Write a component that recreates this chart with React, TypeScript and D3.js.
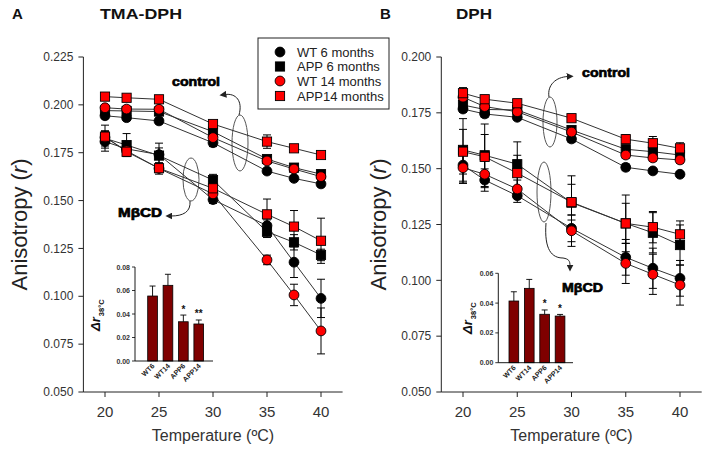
import React from "react";
import * as d3 from "d3";

// ---------- DATA ----------
const temps = [20, 22, 25, 30, 35, 37.5, 40];
const seriesNames = ["WT 6 months", "APP 6 months", "WT 14 months", "APP14 months"];
const xTicks = [20, 25, 30, 35, 40];

// Panel A (TMA-DPH) control
const aCtrlWT6 = [0.1943, 0.1933, 0.1916, 0.1802, 0.1654, 0.1616, 0.1587];
const aCtrlAPP6 = [0.197, 0.1968, 0.1965, 0.186, 0.1717, 0.1672, 0.1638];
const aCtrlWT14 = [0.1985, 0.1978, 0.1977, 0.1829, 0.1707, 0.1665, 0.1625];
const aCtrlAPP14 = [0.2043, 0.2037, 0.2029, 0.19, 0.1808, 0.1773, 0.1738];
const aCtrlErrWT6 = [0.0015, 0.0015, 0.0015, 0.002, 0.0015, 0.0015, 0.0015];
const aCtrlErrAPP6 = [0.0015, 0.0015, 0.0015, 0.002, 0.0015, 0.0015, 0.0015];
const aCtrlErrWT14 = [0.0015, 0.0015, 0.0015, 0.0015, 0.0015, 0.0015, 0.0015];
const aCtrlErrAPP14 = [0.0015, 0.0012, 0.0012, 0.0015, 0.0035, 0.0015, 0.0012];
// Panel A MβCD
const aMbWT6 = [0.1808, 0.177, 0.174, 0.1505, 0.1369, 0.1178, 0.0989];
const aMbAPP6 = [0.1825, 0.179, 0.1735, 0.1607, 0.1337, 0.1282, 0.1216];
const aMbWT14 = [0.183, 0.176, 0.1668, 0.1535, 0.119, 0.1007, 0.0819];
const aMbAPP14 = [0.1834, 0.1755, 0.1669, 0.1564, 0.1428, 0.1364, 0.129];
const aMbErrWT6 = [0.005, 0.004, 0.006, 0.002, 0.003, 0.008, 0.01];
const aMbErrAPP6 = [0.004, 0.006, 0.004, 0.003, 0.003, 0.004, 0.003];
const aMbErrWT14 = [0.003, 0.003, 0.003, 0.003, 0.0025, 0.0056, 0.012];
const aMbErrAPP14 = [0.006, 0.002, 0.002, 0.003, 0.008, 0.0084, 0.0118];

// Panel B (DPH) control
const bCtrlWT6 = [0.1767, 0.1745, 0.173, 0.1633, 0.1506, 0.149, 0.1475];
const bCtrlAPP6 = [0.1785, 0.1765, 0.1763, 0.1673, 0.1587, 0.1576, 0.1561];
const bCtrlWT14 = [0.182, 0.1778, 0.1755, 0.1664, 0.1561, 0.1548, 0.1539];
const bCtrlAPP14 = [0.1838, 0.1811, 0.1793, 0.1726, 0.1632, 0.1614, 0.1591];
const bCtrlErrWT6 = [0.0015, 0.0015, 0.0012, 0.0015, 0.0015, 0.0012, 0.0012];
const bCtrlErrAPP6 = [0.002, 0.0015, 0.0015, 0.0015, 0.0015, 0.0015, 0.0015];
const bCtrlErrWT14 = [0.002, 0.0015, 0.0015, 0.0015, 0.0015, 0.0015, 0.0015];
const bCtrlErrAPP14 = [0.0025, 0.0015, 0.0012, 0.0015, 0.002, 0.003, 0.0025];
// Panel B MβCD
const bMbWT6 = [0.1516, 0.1449, 0.1379, 0.1233, 0.1103, 0.1054, 0.1009];
const bMbAPP6 = [0.1584, 0.156, 0.152, 0.1348, 0.1255, 0.1213, 0.1158];
const bMbWT14 = [0.1504, 0.1475, 0.1409, 0.1222, 0.1076, 0.1027, 0.0979];
const bMbAPP14 = [0.1576, 0.1553, 0.148, 0.135, 0.1255, 0.1238, 0.1206];
const bMbErrWT6 = [0.008, 0.005, 0.003, 0.006, 0.008, 0.009, 0.008];
const bMbErrAPP6 = [0.014, 0.014, 0.01, 0.012, 0.0127, 0.009, 0.009];
const bMbErrWT14 = [0.007, 0.006, 0.004, 0.007, 0.009, 0.009, 0.009];
const bMbErrAPP14 = [0.01, 0.01, 0.008, 0.008, 0.009, 0.007, 0.006];

// Insets: Δr at 38°C
const insetCats = ["WT6", "WT14", "APP6", "APP14"];
const insetA = [0.0553, 0.0644, 0.0334, 0.0315];
const insetAErr = [0.0085, 0.0094, 0.0057, 0.0034];
const insetAStars = ["", "", "*", "**"];
const insetATicks = [0, 0.02, 0.04, 0.06, 0.08];
const insetB = [0.0414, 0.0499, 0.0325, 0.0313];
const insetBErr = [0.0062, 0.006, 0.0029, 0.0011];
const insetBStars = ["", "", "*", "*"];
const insetBTicks = [0, 0.02, 0.04, 0.06];

const aYTicks = [0.05, 0.075, 0.1, 0.125, 0.15, 0.175, 0.2, 0.225];
const bYTicks = [0.05, 0.075, 0.1, 0.125, 0.15, 0.175, 0.2];

// ---------- STYLE ----------
const FONT = "'Liberation Sans', Arial, Helvetica, sans-serif";
const RED = "#ff0000";
const BAR = "#7f0000";
const styleOf = [
  { shape: "circle", fill: "#000" },
  { shape: "square", fill: "#000" },
  { shape: "circle", fill: RED },
  { shape: "square", fill: RED },
];

function Marker({ x, y, i }: { x: number; y: number; i: number }) {
  const s = styleOf[i];
  if (s.shape === "circle")
    return <circle cx={x} cy={y} r={4.9} fill={s.fill} stroke="#000" strokeWidth={0.9} />;
  return <rect x={x - 4.6} y={y - 4.6} width={9.2} height={9.2} fill={s.fill} stroke="#000" strokeWidth={0.9} />;
}

function Group({ x, y, series, errs }: any) {
  const line = d3
    .line<number>()
    .x((_, k) => x(temps[k]))
    .y((v) => y(v));
  return (
    <g>
      {series.map((s: number[], i: number) => (
        <path key={"l" + i} d={line(s) || ""} fill="none" stroke="#333" strokeWidth={1} />
      ))}
      {series.map((s: number[], i: number) =>
        s.map((v, k) => {
          const e = errs[i][k];
          const cx = x(temps[k]);
          const y1 = y(v + e);
          const y2 = y(v - e);
          return (
            <g key={"e" + i + "-" + k} stroke="#000" strokeWidth={1}>
              <line x1={cx} x2={cx} y1={y1} y2={y2} />
              <line x1={cx - 4} x2={cx + 4} y1={y1} y2={y1} />
              <line x1={cx - 4} x2={cx + 4} y1={y2} y2={y2} />
            </g>
          );
        })
      )}
      {series.map((s: number[], i: number) =>
        s.map((v, k) => <Marker key={"m" + i + "-" + k} x={x(temps[k])} y={y(v)} i={i} />)
      )}
    </g>
  );
}

function Inset({ vals, errs, stars, ticks, axisX, y0, yTop, xEnd, bandStart, labelX, labelY }: any) {
  const y = d3.scaleLinear().domain([0, ticks[ticks.length - 1]]).range([y0, yTop]);
  const step = 15.4;
  const bw = 9.7;
  const x = d3
    .scaleBand<string>()
    .domain(insetCats)
    .range([bandStart - step * 0.7, bandStart - step * 0.7 + step * (4 - (1 - bw / step) + 1.4)])
    .paddingInner(1 - bw / step)
    .paddingOuter(0.7);
  return (
    <g fontFamily={FONT}>
      {insetCats.map((c, i) => {
        const bx = x(c)!;
        const top = y(vals[i]);
        const et = y(vals[i] + errs[i]);
        const cx = bx + x.bandwidth() / 2;
        return (
          <g key={c}>
            <rect x={bx} y={top} width={x.bandwidth()} height={y0 - top} fill={BAR} stroke="#000" strokeWidth={0.8} />
            <line x1={cx} x2={cx} y1={top} y2={et} stroke="#000" strokeWidth={0.9} />
            <line x1={cx - 3} x2={cx + 3} y1={et} y2={et} stroke="#000" strokeWidth={0.9} />
            {stars[i] && (
              <text x={cx} y={et - 2.5} textAnchor="middle" fontSize={10} fontWeight="bold" fill="#111">
                {stars[i]}
              </text>
            )}
            <text
              transform={`translate(${cx + 2.5},${y0 + 5.5}) rotate(-45)`}
              textAnchor="end"
              fontSize={7}
              fontWeight="bold"
              fill="#222"
            >
              {c}
            </text>
          </g>
        );
      })}
      <line x1={axisX} x2={axisX} y1={yTop} y2={y0} stroke="#000" strokeWidth={0.9} />
      <line x1={axisX} x2={xEnd} y1={y0} y2={y0} stroke="#000" strokeWidth={0.9} />
      {ticks.map((t: number) => (
        <g key={t}>
          <line x1={axisX - 3} x2={axisX} y1={y(t)} y2={y(t)} stroke="#000" strokeWidth={0.8} />
          <text x={axisX - 5} y={y(t) + 2.5} textAnchor="end" fontSize={7} fontWeight="bold" fill="#333">
            {t.toFixed(2)}
          </text>
        </g>
      ))}
      <text transform={`translate(${labelX},${labelY}) rotate(-90)`} fill="#111">
        <tspan fontSize={13} fontWeight="bold" fontStyle="italic">Δr</tspan>
        <tspan fontSize={7.5} fontWeight="bold" dy={4} dx={1}>38°C</tspan>
      </text>
    </g>
  );
}

function Arrow({ d, id }: { d: string; id: string }) {
  return <path d={d} fill="none" stroke="#222" strokeWidth={1} markerEnd={`url(#${id})`} />;
}

function Panel({ cfg }: any) {
  const x = d3.scaleLinear().domain([18, 42]).range([cfg.left, cfg.right]);
  const y = d3.scaleLinear().domain(cfg.yDomain).range([cfg.bottom, cfg.top]);
  return (
    <g fontFamily={FONT}>
      {/* axes */}
      <line x1={cfg.left} x2={cfg.left} y1={cfg.top} y2={cfg.bottom} stroke="#222" strokeWidth={1} />
      <line x1={cfg.left} x2={cfg.right} y1={cfg.bottom} y2={cfg.bottom} stroke="#222" strokeWidth={1} />
      {cfg.yTicks.map((t: number) => (
        <g key={t}>
          <line x1={cfg.left - 5} x2={cfg.left} y1={y(t)} y2={y(t)} stroke="#222" strokeWidth={1} />
          <text x={cfg.left - 10} y={y(t) + 4.2} textAnchor="end" fontSize={12} fill="#333">
            {t.toFixed(3)}
          </text>
        </g>
      ))}
      {xTicks.map((t) => (
        <g key={t}>
          <line x1={x(t)} x2={x(t)} y1={cfg.bottom} y2={cfg.bottom + 5} stroke="#222" strokeWidth={1} />
          <text x={x(t)} y={cfg.bottom + 25} textAnchor="middle" fontSize={15} fill="#333">
            {t}
          </text>
        </g>
      ))}
      <text x={(cfg.left + cfg.right) / 2} y={441} textAnchor="middle" fontSize={16} fill="#333">
        Temperature (ºC)
      </text>
      <text transform={`translate(${cfg.yLabelX},${(cfg.top + cfg.bottom) / 2}) rotate(-90)`} textAnchor="middle" fontSize={22} fill="#222">
        Anisotropy (<tspan fontStyle="italic">r</tspan>)
      </text>
      {/* titles */}
      <text x={cfg.letterX} y={19} fontSize={15} fontWeight="bold" fill="#111">
        {cfg.letter}
      </text>
      <text x={cfg.titleX} y={19} fontSize={15} fontWeight="bold" fill="#111" textLength={cfg.titleLen} lengthAdjust="spacingAndGlyphs">
        {cfg.title}
      </text>

      {/* ellipses & annotations */}
      {cfg.ellipses.map((e: number[], i: number) => (
        <ellipse key={i} cx={e[0]} cy={e[1]} rx={e[2]} ry={e[3]} fill="none" stroke="#555" strokeWidth={1} />
      ))}
      {cfg.arrows.map((d: string, i: number) => (
        <Arrow key={i} d={d} id="ah" />
      ))}
      {cfg.notes.map((n: any, i: number) => (
        <text key={i} x={n.x} y={n.y} fontSize={13} fontWeight="bold" fill="#000" stroke="#000" strokeWidth={0.7}
          textLength={n.w} lengthAdjust="spacingAndGlyphs">
          {n.t}
        </text>
      ))}

      <Group x={x} y={y} series={cfg.mb} errs={cfg.mbErr} />
      <Group x={x} y={y} series={cfg.ctrl} errs={cfg.ctrlErr} />
      <Inset {...cfg.inset} />
    </g>
  );
}

export default function App() {
  const panelA = {
    left: 83.4, right: 342.6, top: 57, bottom: 392,
    yDomain: [0.05, 0.225], yTicks: aYTicks, yLabelX: 27,
    letter: "A", letterX: 12, title: "TMA-DPH", titleX: 100, titleLen: 82,
    ctrl: [aCtrlWT6, aCtrlAPP6, aCtrlWT14, aCtrlAPP14],
    ctrlErr: [aCtrlErrWT6, aCtrlErrAPP6, aCtrlErrWT14, aCtrlErrAPP14],
    mb: [aMbWT6, aMbAPP6, aMbWT14, aMbAPP14],
    mbErr: [aMbErrWT6, aMbErrAPP6, aMbErrWT14, aMbErrAPP14],
    ellipses: [[240, 143, 8, 28], [191, 179.5, 8, 21.5]],
    arrows: ["M239,115 C243,101 236,93 225,94.5", "M190,201 C191,212 183,216 171,216"],
    notes: [{ t: "control", x: 172, y: 86, w: 48 }, { t: "MβCD", x: 118, y: 217, w: 44 }],
    inset: {
      vals: insetA, errs: insetAErr, stars: insetAStars, ticks: insetATicks,
      axisX: 135, y0: 361, yTop: 267, xEnd: 213, bandStart: 147.7, labelX: 100, labelY: 331,
    },
  };
  const panelB = {
    left: 441.3, right: 701.7, top: 57, bottom: 392,
    yDomain: [0.05, 0.2], yTicks: bYTicks, yLabelX: 386,
    letter: "B", letterX: 380, title: "DPH", titleX: 456, titleLen: 36,
    ctrl: [bCtrlWT6, bCtrlAPP6, bCtrlWT14, bCtrlAPP14],
    ctrlErr: [bCtrlErrWT6, bCtrlErrAPP6, bCtrlErrWT14, bCtrlErrAPP14],
    mb: [bMbWT6, bMbAPP6, bMbWT14, bMbAPP14],
    mbErr: [bMbErrWT6, bMbErrAPP6, bMbErrWT14, bMbErrAPP14],
    ellipses: [[550, 122, 7, 25], [544, 192, 7, 30]],
    arrows: ["M549,97 C547,85 556,77 568,76.5", "M546,223 C544,250 552,258 563,258 C569,259 570,261 570,266"],
    notes: [{ t: "control", x: 582, y: 77, w: 48 }, { t: "MβCD", x: 562, y: 292, w: 41 }],
    inset: {
      vals: insetB, errs: insetBErr, stars: insetBStars, ticks: insetBTicks,
      axisX: 498.3, y0: 362.7, yTop: 273.3, xEnd: 573, bandStart: 509, labelX: 472, labelY: 334,
    },
  };
  const legendY = [52, 66.5, 81, 96];
  return (
    <svg width={708} height={453} style={{ position: "absolute", left: 0, top: 0, background: "#fff" }}>
      <defs>
        <marker id="ah" viewBox="0 0 10 10" refX="2" refY="5" markerWidth="7" markerHeight="7" orient="auto">
          <path d="M0,0 L10,5 L0,10 z" fill="#222" />
        </marker>
      </defs>
      <rect width={708} height={453} fill="#fff" />
      <Panel cfg={panelA} />
      <Panel cfg={panelB} />
      {/* legend */}
      <g fontFamily={FONT}>
        <rect x={258} y={38} width={131} height={71} fill="#fff" stroke="#222" strokeWidth={1} />
        {seriesNames.map((n, i) => (
          <g key={n}>
            <Marker x={280} y={legendY[i]} i={i} />
            <text x={297} y={legendY[i] + 4.5} fontSize={13} fill="#222">
              {n}
            </text>
          </g>
        ))}
      </g>
    </svg>
  );
}
